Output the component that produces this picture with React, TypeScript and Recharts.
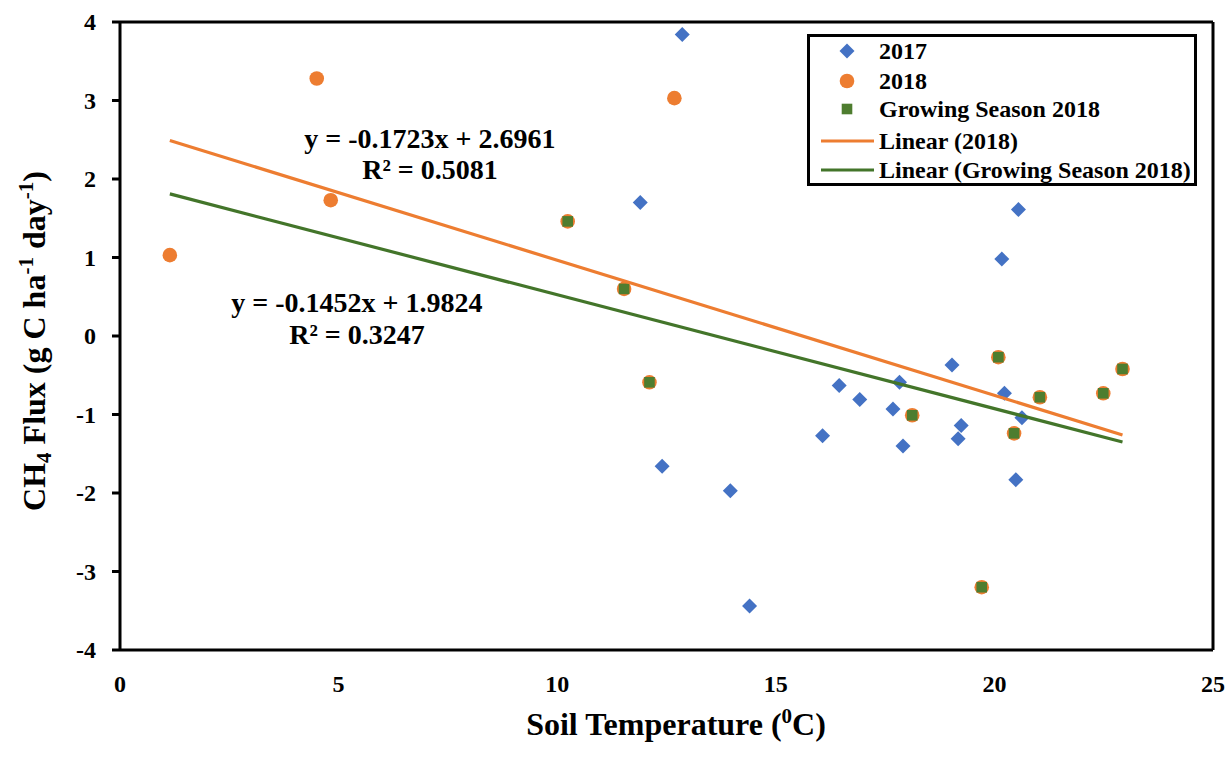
import React from 'react';
import { ScatterChart, Scatter, XAxis, YAxis, ReferenceLine, ReferenceDot, Legend } from 'recharts';

const FONT = '"Liberation Serif", "Times New Roman", Times, serif';

// 2017 observations
const x2017 = [12.86, 11.9, 20.55, 20.17, 19.03, 16.45, 17.83, 16.92, 17.68, 20.23, 20.63, 19.24, 16.07, 19.17, 17.91, 12.4, 20.49, 13.96, 14.4];
const y2017 = [3.84, 1.7, 1.61, 0.98, -0.37, -0.63, -0.59, -0.81, -0.93, -0.73, -1.04, -1.14, -1.27, -1.31, -1.4, -1.66, -1.83, -1.97, -3.44];

// 2018 observations
const x2018 = [1.14, 4.5, 4.82, 10.24, 11.53, 12.11, 12.68, 18.12, 19.71, 20.09, 20.45, 21.04, 22.49, 22.93];
const y2018 = [1.03, 3.28, 1.73, 1.46, 0.6, -0.59, 3.03, -1.01, -3.2, -0.27, -1.24, -0.78, -0.73, -0.42];

// Growing season 2018
const xGS = [10.24, 11.53, 12.11, 18.12, 19.71, 20.09, 20.45, 21.04, 22.49, 22.93];
const yGS = [1.46, 0.6, -0.59, -1.01, -3.2, -0.27, -1.24, -0.78, -0.73, -0.42];

// Trendline endpoints
const trendX = [1.14, 22.93];
const trend2018Y = [2.49, -1.26];
const trendGSY = [1.81, -1.35];

const xTicks = [0, 5, 10, 15, 20, 25];
const yTicks = [-4, -3, -2, -1, 0, 1, 2, 3, 4];

const eq2018 = 'y = -0.1723x + 2.6961';
const r2018 = 'R² = 0.5081';
const eqGS = 'y = -0.1452x + 1.9824';
const rGS = 'R² = 0.3247';

const BLUE = '#4472C4';
const ORANGE = '#ED7D31';
const GREEN = '#4E7D2F';
const GREEN_LINE = '#43752A';

const zip = (xs: number[], ys: number[]) => xs.map((x, i) => ({ x, y: ys[i] }));
const d2017 = zip(x2017, y2017);
const d2018 = zip(x2018, y2018);
const dGS = zip(xGS, yGS);
const dT2018 = zip(trendX, trend2018Y);
const dTGS = zip(trendX, trendGSY);

const Diamond = (p: any) => {
  const { cx, cy } = p;
  const r = 7.5;
  return <polygon points={`${cx},${cy - r} ${cx + r},${cy} ${cx},${cy + r} ${cx - r},${cy}`} fill={BLUE} />;
};
const Dot = (p: any) => <circle cx={p.cx} cy={p.cy} r={7.3} fill={ORANGE} />;
const Sq = (p: any) => <rect x={p.cx - 5.3} y={p.cy - 5.3} width={10.6} height={10.6} fill={GREEN} />;
const NoShape = () => <g />;

const XTick = (p: any) => (
  <text x={p.x} y={692} textAnchor="middle" fontFamily={FONT} fontWeight="bold" fontSize={24} fill="#000">
    {p.payload.value}
  </text>
);
const YTick = (p: any) => (
  <text x={96} y={p.y + 8} textAnchor="end" fontFamily={FONT} fontWeight="bold" fontSize={24} fill="#000">
    {p.payload.value}
  </text>
);

const XTitle = () => (
  <text x={676} y={735} textAnchor="middle" fontFamily={FONT} fontWeight="bold" fontSize={32} fill="#000">
    Soil Temperature (<tspan dy={-12} fontSize={21}>0</tspan>
    <tspan dy={12}>C)</tspan>
  </text>
);
const YTitle = () => (
  <text
    x={45}
    y={341}
    transform="rotate(-90, 45, 341)"
    textAnchor="middle"
    fontFamily={FONT}
    fontWeight="bold"
    fontSize={32}
    fill="#000"
  >
    CH<tspan dy={6} fontSize={21}>4</tspan>
    <tspan dy={-6}> Flux (g C ha</tspan>
    <tspan dy={-12} fontSize={21}>-1</tspan>
    <tspan dy={12}> day</tspan>
    <tspan dy={-12} fontSize={21}>-1</tspan>
    <tspan dy={12}>)</tspan>
  </text>
);

const Annot = (text: string) => (p: any) => {
  const vb = p.viewBox || {};
  const cx = (vb.x ?? 0) + (vb.width ?? 0) / 2;
  const cy = (vb.y ?? 0) + (vb.height ?? 0) / 2;
  return (
    <text x={cx} y={cy} textAnchor="middle" fontFamily={FONT} fontWeight="bold" fontSize={28} fill="#000">
      {text}
    </text>
  );
};

const legendItems = [
  { label: '2017', kind: 'diamond' },
  { label: '2018', kind: 'circle' },
  { label: 'Growing Season 2018', kind: 'square' },
  { label: 'Linear (2018)', kind: 'line', color: ORANGE },
  { label: 'Linear (Growing Season 2018)', kind: 'line', color: GREEN_LINE },
];
const rowY = [14, 44, 72, 104, 133];

const LegendBox = () => (
  <div
    style={{
      width: 390,
      height: 152,
      border: '3px solid #000',
      boxSizing: 'border-box',
      background: '#fff',
    }}
  >
    <svg width={384} height={146} style={{ display: 'block' }}>
      {legendItems.map((it, i) => {
        const cy = rowY[i];
        const cx = 37;
        let sym: any = null;
        if (it.kind === 'diamond') {
          const r = 7.5;
          sym = <polygon points={`${cx},${cy - r} ${cx + r},${cy} ${cx},${cy + r} ${cx - r},${cy}`} fill={BLUE} />;
        } else if (it.kind === 'circle') {
          sym = <circle cx={cx} cy={cy} r={7.3} fill={ORANGE} />;
        } else if (it.kind === 'square') {
          sym = <rect x={cx - 5.3} y={cy - 5.3} width={10.6} height={10.6} fill={GREEN} />;
        } else {
          sym = <line x1={11} x2={64} y1={cy} y2={cy} stroke={it.color} strokeWidth={3} />;
        }
        return (
          <g key={it.label}>
            {sym}
            <text x={69} y={cy + 8} fontFamily={FONT} fontWeight="bold" fontSize={24} fill="#000">
              {it.label}
            </text>
          </g>
        );
      })}
    </svg>
  </div>
);

export default function App() {
  return (
    <div style={{ position: 'absolute', left: 0, top: 0, width: 1231, height: 761, background: '#fff' }}>
      <ScatterChart width={1231} height={761} margin={{ top: 22, right: 18, bottom: 0, left: 0 }}>
        <XAxis
          type="number"
          dataKey="x"
          domain={[0, 25]}
          ticks={xTicks}
          height={111}
          axisLine={{ stroke: '#000', strokeWidth: 3 }}
          tickLine={false}
          tickSize={0}
          tick={<XTick />}
          label={<XTitle />}
          allowDataOverflow
        />
        <YAxis
          type="number"
          dataKey="y"
          domain={[-4, 4]}
          ticks={yTicks}
          width={120}
          axisLine={{ stroke: '#000', strokeWidth: 3 }}
          tickLine={{ stroke: '#000', strokeWidth: 3 }}
          tickSize={8}
          tick={<YTick />}
          label={<YTitle />}
          allowDataOverflow
        />
        <ReferenceLine y={4} stroke="#000" strokeWidth={3} />
        <ReferenceLine x={25} stroke="#000" strokeWidth={3} />
        <Legend
          layout="vertical"
          align="center"
          verticalAlign="middle"
          content={<LegendBox />}
          wrapperStyle={{ left: 807, top: 34, width: 390, height: 152 }}
        />
        <Scatter name="2017" data={d2017} shape={<Diamond />} isAnimationActive={false} />
        <Scatter name="2018" data={d2018} shape={<Dot />} isAnimationActive={false} />
        <Scatter name="Growing Season 2018" data={dGS} shape={<Sq />} isAnimationActive={false} />
        <Scatter
          name="Linear (2018)"
          data={dT2018}
          line={{ stroke: ORANGE, strokeWidth: 3.2 }}
          shape={<NoShape />}
          legendType="none"
          isAnimationActive={false}
        />
        <Scatter
          name="Linear (Growing Season 2018)"
          data={dTGS}
          line={{ stroke: GREEN_LINE, strokeWidth: 3.2 }}
          shape={<NoShape />}
          legendType="none"
          isAnimationActive={false}
        />
        <ReferenceDot x={7.09} y={2.4} r={0} fill="none" stroke="none" label={Annot(eq2018)} />
        <ReferenceDot x={7.09} y={2.0} r={0} fill="none" stroke="none" label={Annot(r2018)} />
        <ReferenceDot x={5.42} y={0.305} r={0} fill="none" stroke="none" label={Annot(eqGS)} />
        <ReferenceDot x={5.42} y={-0.1} r={0} fill="none" stroke="none" label={Annot(rGS)} />
      </ScatterChart>
    </div>
  );
}
